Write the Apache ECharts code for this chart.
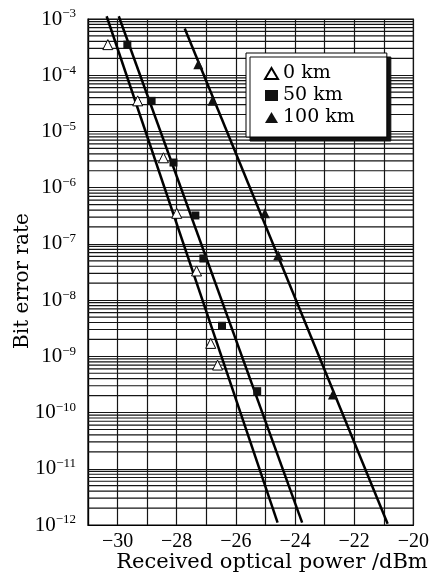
<!DOCTYPE html>
<html>
<head>
<meta charset="utf-8">
<script src="https://cdn.jsdelivr.net/npm/echarts@6/dist/echarts.min.js"></script>
<style>
html,body{margin:0;padding:0;background:#fff;}
#chart{width:432px;height:577px;}
</style>
</head>
<body>
<div id="chart"></div>
<script>
// ---- data ----
const seriesNames = ['0 km', '50 km', '100 km'];

const zeroKmX = [-30.33, -29.32, -28.45, -28.0, -27.33, -26.85, -26.62];
const zeroKmY = [3.5e-4, 3.5e-5, 3.4e-6, 3.5e-7, 3.3e-8, 1.7e-9, 7e-10];

const fiftyKmX = [-29.67, -28.85, -28.11, -27.37, -27.1, -26.47, -25.28];
const fiftyKmY = [3.5e-4, 3.5e-5, 2.8e-6, 3.2e-7, 5.5e-8, 3.5e-9, 2.4e-10];

const hundredKmX = [-27.27, -26.79, -25.02, -24.57, -22.72];
const hundredKmY = [1.56e-4, 3.5e-5, 3.5e-7, 6.3e-8, 2.1e-10];

// fitted straight lines (end points)
const fitZeroX = [-30.37, -24.59];
const fitZeroY = [1.12e-3, 1.1e-12];
const fitFiftyX = [-29.96, -23.76];
const fitFiftyY = [1.12e-3, 1.1e-12];
const fitHundredX = [-27.73, -20.87];
const fitHundredY = [6.8e-4, 1.05e-12];

// axes
const xMin = -31, xMax = -20, xStep = 1;
const yMinExp = -12, yMaxExp = -3;
const minorMultipliers = [2, 3, 4, 5, 6, 7, 8, 9];

const xTitle = 'Received optical power /dBm';
const yTitle = 'Bit error rate';

// ---- build ----
const zip = (xs, ys) => xs.map((x, i) => [x, ys[i]]);

// minor log grid lines as broken line segments spanning the x range
const minorGridData = [];
for (let e = yMinExp; e < yMaxExp; e++) {
  for (const m of minorMultipliers) {
    const v = Number((m * Math.pow(10, e)).toPrecision(3));
    minorGridData.push([xMin, v], [xMax, v], [xMax, '-']);
  }
}

const gridColor = '#151515';
const gridWidth = 1.2;
const serif = 'DejaVu Serif';
const numFont = 'Liberation Serif';

const chart = echarts.init(document.getElementById('chart'), null, { renderer: 'canvas' });

chart.setOption({
  backgroundColor: '#fff',
  animation: false,
  grid: {
    left: 88, right: 17, top: 19, bottom: 52,
    show: true, borderColor: '#000', borderWidth: 1.2, backgroundColor: 'transparent'
  },
  xAxis: {
    type: 'value', min: xMin, max: xMax, interval: xStep,
    axisLine: { show: true, lineStyle: { color: '#000', width: 1.2 } },
    axisTick: { show: false },
    splitLine: { show: true, lineStyle: { color: gridColor, width: gridWidth } },
    axisLabel: {
      interval: 0, showMinLabel: true, showMaxLabel: true,
      formatter: v => (Math.round(v) % 2 === 0 ? '\u2212' + Math.abs(Math.round(v)) : ''),
      color: '#000', fontFamily: numFont, fontSize: 20, margin: 7
    }
  },
  yAxis: {
    type: 'log', logBase: 10,
    min: Math.pow(10, yMinExp), max: Math.pow(10, yMaxExp),
    interval: 1, splitNumber: 9,
    axisLine: { show: true, lineStyle: { color: '#000', width: 1.2 } },
    axisTick: { show: false },
    splitLine: { show: true, lineStyle: { color: gridColor, width: gridWidth } },
    axisLabel: {
      formatter: v => {
        const e = Math.round(Math.log10(v));
        return '{a|10}{b|\u2212' + Math.abs(e) + '}';
      },
      margin: 12,
      rich: {
        a: { fontFamily: numFont, fontSize: 21, color: '#000' },
        b: { fontFamily: numFont, fontSize: 13, color: '#000', padding: [0, 0, 10, 0] }
      }
    }
  },
  legend: {
    data: seriesNames,
    orient: 'vertical',
    left: 246, top: 53,
    padding: [11, 32, 10, 18],
    itemGap: 3,
    itemWidth: 13, itemHeight: 11,
    backgroundColor: '#fff',
    borderColor: '#000', borderWidth: 1,
    shadowColor: '#111', shadowBlur: 0, shadowOffsetX: 4, shadowOffsetY: 4,
    textStyle: { fontFamily: serif, fontSize: 19, color: '#000' },
    selectedMode: false
  },
  graphic: [
    {
      type: 'text', x: 272, y: 563, z: 10,
      style: { text: xTitle, font: '21px "DejaVu Serif"', fill: '#000', align: 'center', verticalAlign: 'middle' }
    },
    {
      type: 'text', x: 23, y: 281, rotation: Math.PI / 2, z: 10,
      style: { text: yTitle, font: '20px "DejaVu Serif"', fill: '#000', align: 'center', verticalAlign: 'middle' }
    }
  ],
  series: [
    {
      name: 'grid-minor', type: 'line', z: 1, silent: true,
      data: minorGridData, connectNulls: false,
      showSymbol: false, symbol: 'none',
      lineStyle: { color: gridColor, width: gridWidth },
      emphasis: { disabled: true }
    },
    { name: 'fit0', type: 'line', data: zip(fitZeroX, fitZeroY), showSymbol: false, clip: false, z: 3,
      lineStyle: { color: '#000', width: 2.5 } },
    { name: 'fit50', type: 'line', data: zip(fitFiftyX, fitFiftyY), showSymbol: false, clip: false, z: 3,
      lineStyle: { color: '#000', width: 2.5 } },
    { name: 'fit100', type: 'line', data: zip(fitHundredX, fitHundredY), showSymbol: false, clip: false, z: 3,
      lineStyle: { color: '#000', width: 2.5 } },
    { name: seriesNames[0], type: 'scatter', data: zip(zeroKmX, zeroKmY), symbol: 'triangle', symbolSize: 10, z: 4,
      itemStyle: { color: '#fff', borderColor: '#000', borderWidth: 1, opacity: 1 } },
    { name: seriesNames[1], type: 'scatter', data: zip(fiftyKmX, fiftyKmY), symbol: 'rect', symbolSize: 8, z: 4,
      itemStyle: { color: '#111', opacity: 1 } },
    { name: seriesNames[2], type: 'scatter', data: zip(hundredKmX, hundredKmY), symbol: 'triangle', symbolSize: 10, z: 4,
      itemStyle: { color: '#111', opacity: 1 } }
  ]
});
</script>
</body>
</html>
